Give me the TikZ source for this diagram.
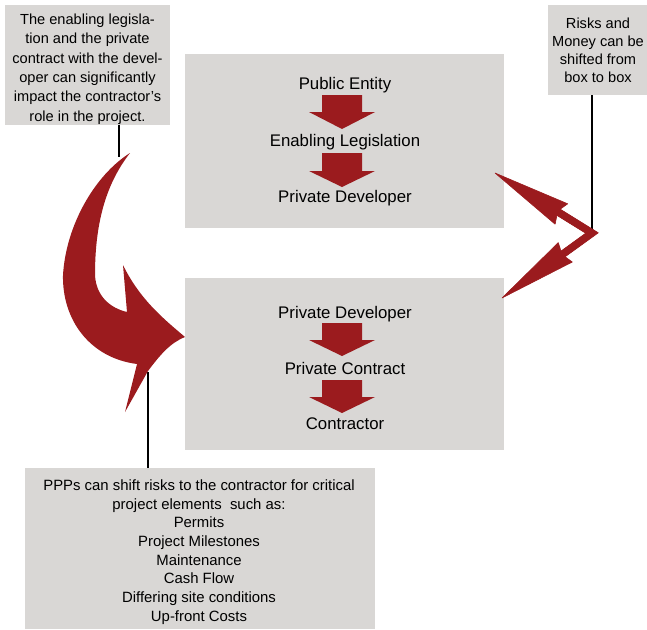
\documentclass[tikz,border=0pt]{standalone}
\usepackage{fontspec}
\setmainfont{Liberation Sans}
\definecolor{arrred}{RGB}{155,27,30}
\definecolor{boxgray}{RGB}{217,215,213}
\tikzset{
  mainbox/.style={fill=boxgray, draw=none, inner sep=0pt},
  notebox/.style={fill=boxgray, draw=none, inner sep=0pt},
  maintext/.style={anchor=base, inner sep=0pt, font=\fontsize{16.8}{20}\selectfont},
  notetext/.style={inner sep=0pt, align=center},
  connline/.style={draw=black, line width=1.5pt},
  redshape/.style={fill=arrred, draw=arrred, line width=0.6pt, line join=round},
  shaftline/.style={draw=arrred, line width=7pt, line cap=round},
}
\newcommand\dnarrow[4]{%
  \fill[arrred] ({#1-20},#2) -- ({#1+20},#2) -- ({#1+20},#3) -- ({#1+33},#3)
    -- (#1,#4) -- ({#1-33},#3) -- ({#1-20},#3) -- cycle;}
\begin{document}
\begin{tikzpicture}[x=1pt,y=-1pt]
\useasboundingbox (0,0) rectangle (647,629);

% main boxes
\node[mainbox, minimum width=319pt, minimum height=174pt] (topbox) at (344.5,141) {};
\node[mainbox, minimum width=319pt, minimum height=172pt] (botbox) at (344.5,364) {};

% notes
\node[notebox, minimum width=165pt, minimum height=120pt] (lnote) at (87.5,64.5) {};
\node[notetext, font=\fontsize{14.6}{19.4}\selectfont] (ltext) at (87.5,69)
  {The enabling legisla-\\tion and the private\\contract with the devel-\\oper can significantly\\impact the contractor’s\\role in the project.};
\node[notebox, minimum width=100pt, minimum height=90pt] (rnote) at (598,50) {};
\node[notetext, font=\fontsize{14.6}{18}\selectfont] (rtext) at (598,50)
  {Risks and\\Money can be\\shifted from\\box to box};
\node[notebox, minimum width=350pt, minimum height=161pt] (bnote) at (200,548.5) {};
\node[notetext, font=\fontsize{14.9}{18.7}\selectfont] (btext) at (199,552)
  {PPPs can shift risks to the contractor for critical\\project elements\ \ such as:\\Permits\\Project Milestones\\Maintenance\\Cash Flow\\Differing site conditions\\Up-front Costs};

% main box texts
\node[maintext] (pe) at (345,89) {Public Entity};
\node[maintext] (el) at (345,146) {Enabling Legislation};
\node[maintext] (pd1) at (345,202) {Private Developer};
\node[maintext] (pd2) at (345,318) {Private Developer};
\node[maintext] (pc) at (345,374) {Private Contract};
\node[maintext] (co) at (345,429) {Contractor};

% block arrows
\dnarrow{342}{95}{112}{129}
\dnarrow{342}{153}{171}{187}
\dnarrow{342}{323}{340}{356}
\dnarrow{342}{380}{397}{413}

% connector lines
\coordinate (lstart) at (119,157);
\draw[connline] (lnote.south -| lstart) -- (lstart);
\coordinate (bstart) at (148,372);
\draw[connline] (bstart) -- (bstart |- bnote.north);
\coordinate (C) at (592,233);
\draw[connline] (rnote.south -| C) -- (C);

% big curved arrow
\fill[arrred] (130,153) .. controls (95,175) and (66,225) .. (63,275)
  .. controls (62,320) and (90,358) .. (137,364)
  -- (125,412) -- (148,371)
  .. controls (160,355) and (170,343) .. (185,337)
  .. controls (165,320) and (140,300) .. (123,265)
  -- (127,312)
  .. controls (110,308) and (96,296) .. (95,275)
  .. controls (95,225) and (105,185) .. (130,153) -- cycle;

% right double arrow (shafts joined at C)
\coordinate (T1) at (495,173);
\coordinate (T2) at (502,298);
\coordinate (S1) at (544.4,203.5);
\coordinate (S2) at (549.1,264);
\path[redshape] (546.2,200.5) -- (598.3,232.8) -- (551.2,266.8) -- (547.05,261.2)
  -- (585.7,233.2) -- (542.6,206.5) -- cycle;
\draw[shaftline] (S1) -- (C);
\draw[shaftline] (S2) -- (C);
\path[redshape] (T1) -- (567.7,203.8) -- (557.9,210.8) -- (555.1,224.2) -- cycle;
\path[redshape] (T2) -- (572.3,262) -- (562.1,254.6) -- (558.3,242.6) -- cycle;
\end{tikzpicture}
\end{document}
